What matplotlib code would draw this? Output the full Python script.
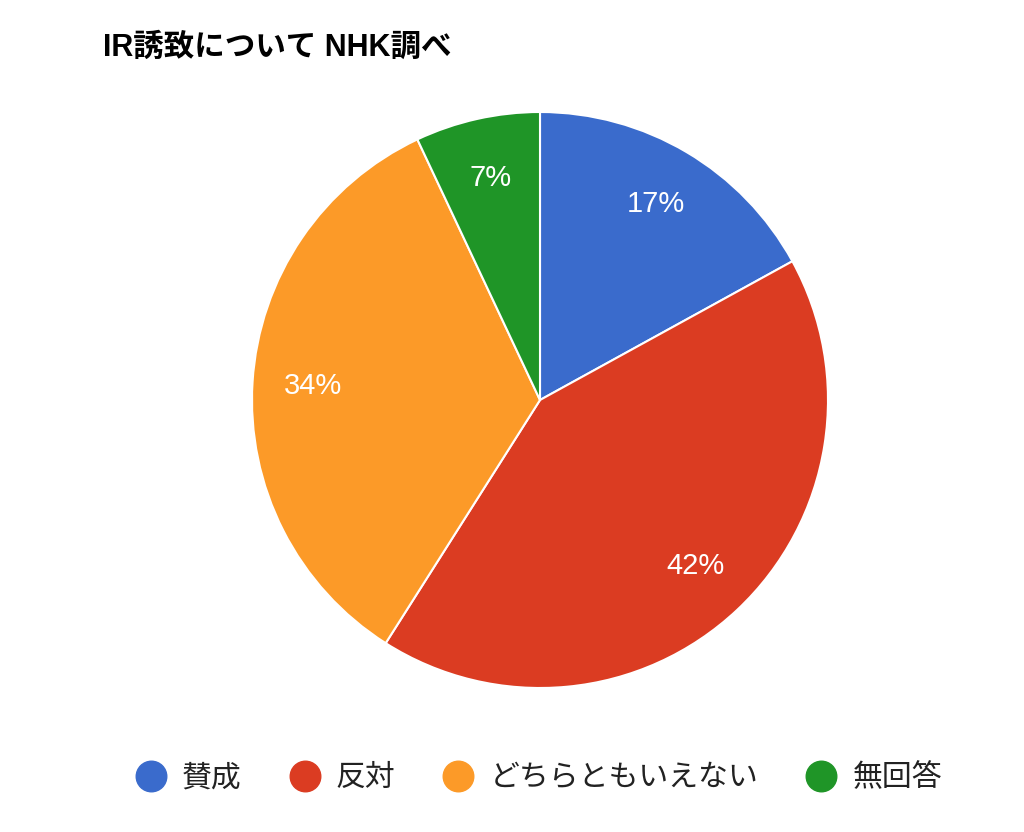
import matplotlib
matplotlib.use("Agg")
import matplotlib.pyplot as plt
from matplotlib.lines import Line2D

plt.rcParams['font.family'] = ['Liberation Sans', 'Noto Sans CJK JP', 'DejaVu Sans']

categories = ["賛成", "反対", "どちらともいえない", "無回答"]
values = [17, 42, 34, 7]
colors = ["#3a6bcc", "#db3c22", "#fc9a28", "#1f9527"]
title = "IR誘致について NHK調べ"

fig = plt.figure(figsize=(10.24, 8.32), dpi=100)
ax = fig.add_axes([252 / 1024, 1 - 688 / 832, 576 / 1024, 576 / 832])

wedges, texts, autotexts = ax.pie(
    values,
    colors=colors,
    startangle=90,
    counterclock=False,
    autopct=lambda p: f"{p:.0f}%",
    pctdistance=0.79,
    wedgeprops=dict(edgecolor="white", linewidth=1.5),
    textprops=dict(color="white", fontsize=21),
)
ax.set_xlim(-1, 1)
ax.set_ylim(-1, 1)

fig.text(103 / 1024, 1 - 48 / 832, title, fontsize=22, fontweight="bold",
         va="center", ha="left", color="black")

handles = [Line2D([], [], marker="o", linestyle="none", markersize=22,
                  markerfacecolor=c, markeredgecolor=c) for c in colors]
fig.legend(handles, categories, loc="center", bbox_to_anchor=(539 / 1024, 1 - 778 / 832),
           ncol=4, frameon=False, fontsize=21.5, handlelength=1.0,
           handletextpad=0.55, columnspacing=1.6, labelcolor="#222222")

fig.savefig("out.png", dpi=100)
